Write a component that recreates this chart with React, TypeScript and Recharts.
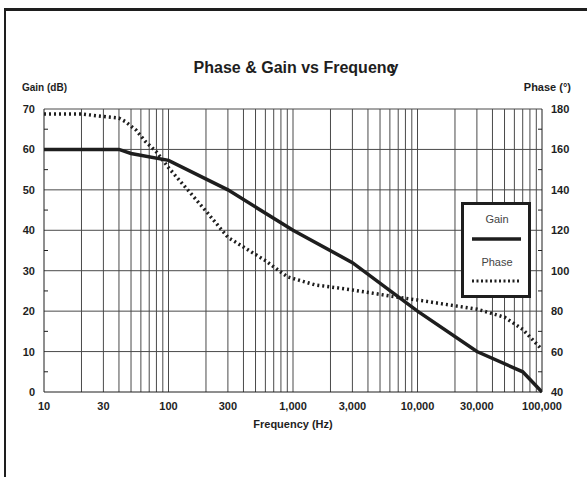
import React from "react";
import {
  ComposedChart,
  Line,
  XAxis,
  YAxis,
  ReferenceLine,
  Legend,
  Customized,
} from "recharts";

const gainFreq = [10, 40, 50, 100, 300, 1000, 3000, 10000, 30000, 70000, 100000];
const gainDb = [60, 60, 59, 57.3, 50, 40, 32, 20, 10, 5, 0];

const phaseFreq = [
  10, 20, 30, 40, 45, 55, 65, 80, 100, 200, 300, 600, 900, 1500, 3000, 6000,
  10000, 30000, 50000, 70000, 100000,
];
const phaseDeg = [
  177.5, 177.5, 176.3, 175.5, 173.8, 169.5, 164, 158.8, 151, 129.5, 116.5, 105,
  97, 93, 90.5, 87.5, 85.5, 81, 77, 71, 61,
];

const freqTicks = [10, 30, 100, 300, 1000, 3000, 10000, 30000, 100000];
const gridFreqs = [
  20, 30, 40, 50, 60, 70, 80, 90, 100, 200, 300, 400, 500, 600, 700, 800, 900,
  1000, 2000, 3000, 4000, 5000, 6000, 7000, 8000, 9000, 10000, 20000, 30000,
  40000, 50000, 60000, 70000, 80000, 90000,
];
const gainTicks = [0, 5, 10, 15, 20, 25, 30, 35, 40, 45, 50, 55, 60, 65, 70];
const gainGrid = [10, 20, 30, 40, 50, 60, 70];
const phaseTicks = [40, 50, 60, 70, 80, 90, 100, 110, 120, 130, 140, 150, 160, 170, 180];

const gainData = gainFreq.map((f, i) => ({ f, g: gainDb[i] }));
const phaseData = phaseFreq.map((f, i) => ({ f, p: phaseDeg[i] }));

const FONT = '"Liberation Sans", Arial, Helvetica, sans-serif';
const INK = "#1e1e1e";
const GRID = "#4a4a4a";

const fmt = (v: number) => v.toLocaleString("en-US");

const LeftTick = (props: any) => {
  const { x, y, payload } = props;
  const v = payload.value;
  if (v % 10 !== 0) {
    return <line x1={x + 9} x2={x + 13} y1={y} y2={y} stroke={INK} strokeWidth={1} />;
  }
  return (
    <text x={x} y={y} dy="0.36em" textAnchor="end" fontFamily={FONT} fontSize={11} fontWeight="bold" fill={INK}>
      {v}
    </text>
  );
};

const RightTick = (props: any) => {
  const { x, y, payload } = props;
  const v = payload.value;
  if (v % 20 !== 0) {
    return <line x1={x - 13} x2={x - 9} y1={y} y2={y} stroke={INK} strokeWidth={1} />;
  }
  return (
    <text x={x} y={y} dy="0.36em" textAnchor="start" fontFamily={FONT} fontSize={11} fontWeight="bold" fill={INK}>
      {v}
    </text>
  );
};

const BottomTick = (props: any) => {
  const { x, y, payload } = props;
  return (
    <text x={x} y={y} dy="0.71em" textAnchor="middle" fontFamily={FONT} fontSize={11} fontWeight="bold" fill={INK}>
      {fmt(payload.value)}
    </text>
  );
};

const Texts = () => (
  <g fontFamily={FONT} fontWeight="bold" fill={INK}>
    <text x={296} y={72.5} textAnchor="middle" fontSize={16}>
      Phase &amp; Gain vs Frequen<tspan>c</tspan>
      <tspan dx={-6}>y</tspan>
    </text>
    <text x={22} y={91} textAnchor="start" fontSize={10}>
      Gain (dB)
    </text>
    <text x={571} y={91} textAnchor="end" fontSize={11}>
      Phase (°)
    </text>
    <text x={293} y={428} textAnchor="middle" fontSize={11}>
      Frequency (Hz)
    </text>
  </g>
);

const LegendBox = () => (
  <svg width={70} height={96} style={{ display: "block" }}>
    <rect x={1.5} y={1.5} width={67} height={93} fill="#fff" stroke={INK} strokeWidth={3} />
    <text x={36} y={21} textAnchor="middle" fontFamily={FONT} fontSize={11} fill="#444">
      Gain
    </text>
    <line x1={11} x2={60} y1={37} y2={37} stroke={INK} strokeWidth={3.5} />
    <text x={36} y={64} textAnchor="middle" fontFamily={FONT} fontSize={11} fill="#444">
      Phase
    </text>
    <line x1={11} x2={60} y1={79} y2={79} stroke={INK} strokeWidth={3} strokeDasharray="2 2.5" />
  </svg>
);

export default function App() {
  return (
    <div style={{ position: "absolute", left: 0, top: 0, width: 587, height: 477, overflow: "hidden", background: "#fff" }}>
      <div
        style={{
          position: "absolute",
          left: 4,
          top: 8,
          width: 620,
          height: 520,
          borderTop: `3px solid ${INK}`,
          borderLeft: `2px solid ${INK}`,
        }}
      />
      <div style={{ position: "absolute", left: 0, top: 0 }}>
        <ComposedChart
          width={587}
          height={477}
          margin={{ top: 109, right: 0, bottom: 55, left: 0 }}
        >
          <XAxis
            dataKey="f"
            type="number"
            scale="log"
            domain={[10, 100000]}
            ticks={freqTicks}
            allowDataOverflow
            height={30}
            tickSize={0}
            tickMargin={10}
            tick={<BottomTick />}
            axisLine={{ stroke: INK }}
            tickLine={false}
            interval={0}
          />
          <YAxis
            yAxisId="left"
            orientation="left"
            type="number"
            domain={[0, 70]}
            ticks={gainTicks}
            width={44}
            tickSize={0}
            tickMargin={9}
            tick={<LeftTick />}
            axisLine={{ stroke: INK }}
            tickLine={false}
            interval={0}
          />
          <YAxis
            yAxisId="right"
            orientation="right"
            type="number"
            domain={[40, 180]}
            ticks={phaseTicks}
            width={45}
            tickSize={0}
            tickMargin={9}
            tick={<RightTick />}
            axisLine={{ stroke: INK }}
            tickLine={false}
            interval={0}
          />
          {gridFreqs.map((f) => (
            <ReferenceLine key={"v" + f} x={f} yAxisId="left" stroke={GRID} strokeWidth={1} ifOverflow="hidden" />
          ))}
          {gainGrid.map((g) => (
            <ReferenceLine key={"h" + g} y={g} yAxisId="left" stroke={GRID} strokeWidth={1} />
          ))}
          <Line
            data={phaseData}
            yAxisId="right"
            dataKey="p"
            type="linear"
            stroke={INK}
            strokeWidth={3.5}
            strokeDasharray="2 3"
            dot={false}
            activeDot={false}
            isAnimationActive={false}
          />
          <Line
            data={gainData}
            yAxisId="left"
            dataKey="g"
            type="linear"
            stroke={INK}
            strokeWidth={3.5}
            dot={false}
            activeDot={false}
            isAnimationActive={false}
          />
          <Legend
            layout="vertical"
            align="center"
            verticalAlign="middle"
            content={() => <LegendBox />}
            wrapperStyle={{ position: "absolute", left: 461, top: 202, width: 70, height: 96, margin: 0, padding: 0 }}
          />
          <Customized component={Texts} />
        </ComposedChart>
      </div>
    </div>
  );
}
